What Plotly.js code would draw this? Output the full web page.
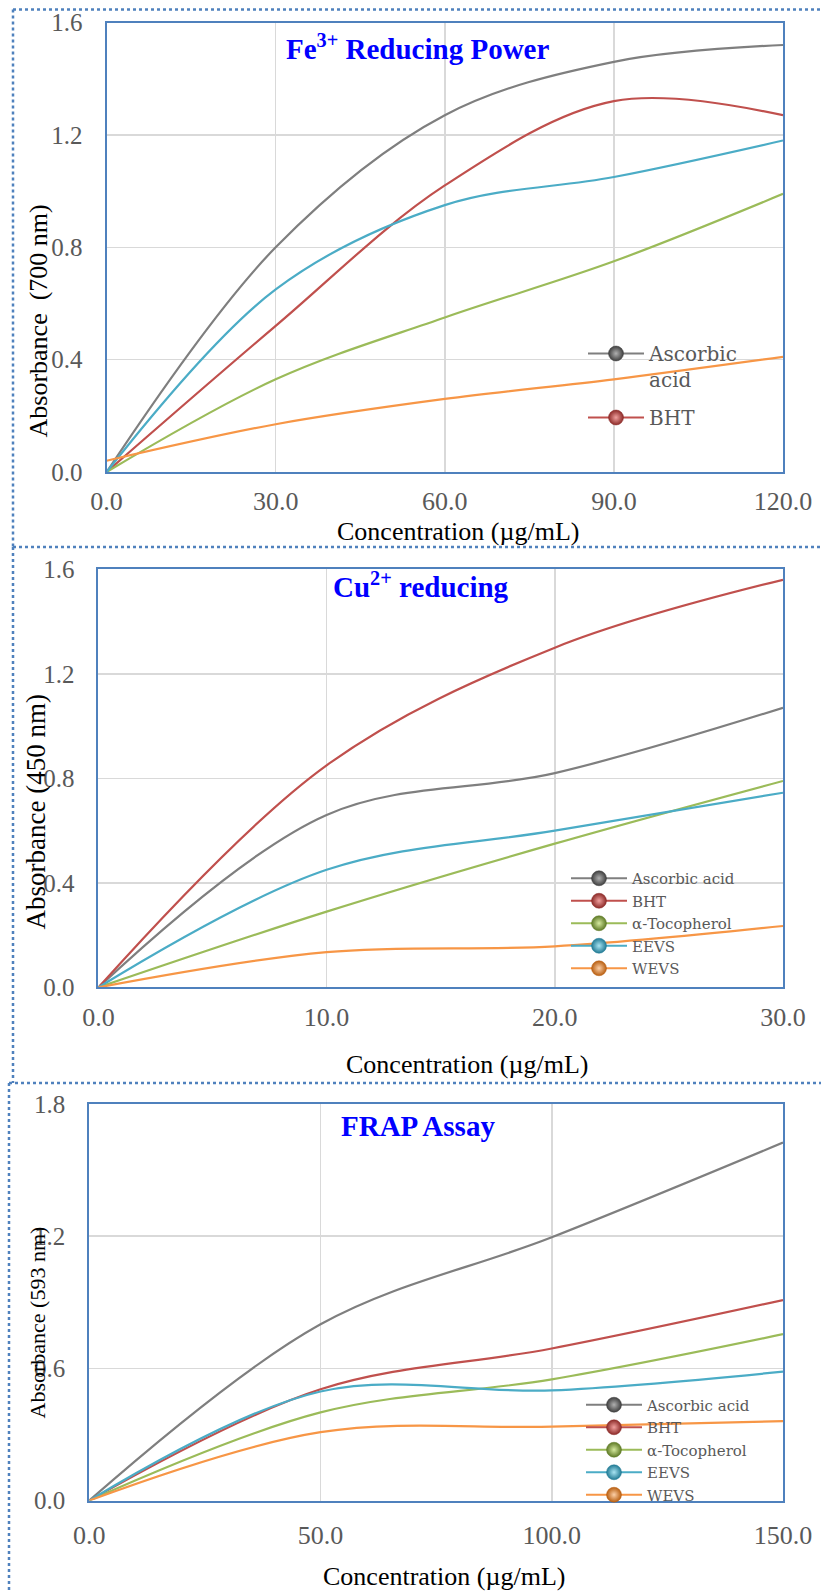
<!DOCTYPE html>
<html>
<head>
<meta charset="utf-8">
<script src="https://cdn.plot.ly/plotly-3.0.1.min.js"></script>
<style>
html,body{margin:0;padding:0;background:#fff;}
#chart{width:821px;height:1591px;}
</style>
</head>
<body>
<div id="chart"></div>
<script>
// ---------- DATA ----------
const seriesNames = ["Ascorbic acid", "BHT", "α-Tocopherol", "EEVS", "WEVS"];

// Panel 1: Fe3+ reducing power (700 nm)
const feConc = [0, 30, 60, 90, 120];
const feAscorbic = [0, 0.80, 1.27, 1.46, 1.52];
const feBHT = [0, 0.52, 1.02, 1.32, 1.27];
const feTocopherol = [0, 0.33, 0.55, 0.75, 0.99];
const feEEVS = [0, 0.65, 0.95, 1.05, 1.18];
const feWEVS = [0.04, 0.17, 0.26, 0.33, 0.41];
const feXTicks = [0, 30, 60, 90, 120];
const feYTicks = [0, 0.4, 0.8, 1.2, 1.6];

// Panel 2: Cu2+ reducing (450 nm)
const cuConc = [0, 10, 20, 30];
const cuAscorbic = [0, 0.66, 0.82, 1.07];
const cuBHT = [0, 0.85, 1.30, 1.56];
const cuTocopherol = [0, 0.29, 0.55, 0.79];
const cuEEVS = [0, 0.45, 0.60, 0.745];
const cuWEVS = [0, 0.135, 0.157, 0.235];
const cuXTicks = [0, 10, 20, 30];
const cuYTicks = [0, 0.4, 0.8, 1.2, 1.6];

// Panel 3: FRAP assay (593 nm)
const frapConc = [0, 50, 100, 150];
const frapAscorbic = [0, 0.80, 1.195, 1.625];
const frapBHT = [0, 0.505, 0.69, 0.91];
const frapTocopherol = [0, 0.40, 0.55, 0.755];
const frapEEVS = [0, 0.495, 0.50, 0.585];
const frapWEVS = [0, 0.31, 0.335, 0.36];
const frapXTicks = [0, 50, 100, 150];
const frapYTicks = [0, 0.6, 1.2, 1.8];

// ---------- STYLE ----------
const colors = ["#7f7f7f", "#c0504d", "#9bbb59", "#4bacc6", "#f79646"];
const centers = ["#b0b0b0", "#f0a09e", "#d6eaa0", "#a8e4f2", "#fcd0a8"];
const edges = ["#3f3f3f", "#8c2a28", "#5e7a26", "#217a94", "#b85e10"];
const serif = "Liberation Serif, Times New Roman, serif";
const legendFont = "DejaVu Serif, Liberation Serif, serif";
const tickGray = "#595959";

const traces = [];
function addPanel(x, ys, xa, ya, legendId, legendNames, legendLabels) {
  ys.forEach((y, i) => {
    traces.push({
      type: "scatter", mode: "lines", x: x, y: y, name: seriesNames[i],
      xaxis: xa, yaxis: ya, showlegend: false, hoverinfo: "x+y+name",
      line: {color: colors[i], width: 2.2, shape: "spline", smoothing: 1}
    });
  });
  legendNames.forEach((idx, k) => {
    traces.push({
      type: "scatter", mode: "lines+markers", x: [null], y: [null],
      name: legendLabels[k], xaxis: xa, yaxis: ya, legend: legendId, showlegend: true,
      legendgroup: legendId + "_" + k,
      line: {color: colors[idx], width: 2.2},
      marker: {size: 15, color: edges[idx], gradient: {type: "radial", color: centers[idx]},
               line: {width: 0.5, color: edges[idx]}}
    });
  });
}
addPanel(feConc, [feAscorbic, feBHT, feTocopherol, feEEVS, feWEVS], "x", "y", "legend",
         [0, 1], ["Ascorbic<br>acid", "BHT"]);
addPanel(cuConc, [cuAscorbic, cuBHT, cuTocopherol, cuEEVS, cuWEVS], "x2", "y2", "legend2",
         [0, 1, 2, 3, 4], seriesNames);
addPanel(frapConc, [frapAscorbic, frapBHT, frapTocopherol, frapEEVS, frapWEVS], "x3", "y3", "legend3",
         [0, 1, 2, 3, 4], seriesNames);

const W = 821, H = 1591;
const px = v => v / W;
const py = v => 1 - v / H;

function xAxis(domain, ticks, anchor, standoff) {
  return {
    domain: domain, anchor: anchor, range: [ticks[0], ticks[ticks.length - 1]],
    tickvals: ticks, tickformat: ".1f", ticks: "", ticklabelstandoff: standoff,
    tickfont: {family: serif, size: 26, color: tickGray},
    showgrid: true, gridcolor: "#d9d9d9", gridwidth: 1.5, zeroline: false,
    showline: true, mirror: true, linecolor: "#4f81bd", linewidth: 2, fixedrange: true
  };
}
function yAxis(domain, ticks, anchor) {
  return {
    domain: domain, anchor: anchor, range: [ticks[0], ticks[ticks.length - 1]],
    tickvals: ticks, tickformat: ".1f", ticks: "", ticklabelstandoff: 17,
    tickfont: {family: serif, size: 25, color: tickGray},
    showgrid: true, gridcolor: "#d9d9d9", gridwidth: 1.5, zeroline: false,
    showline: true, mirror: true, linecolor: "#4f81bd", linewidth: 2, fixedrange: true
  };
}
function legendAt(x, y, size, gap) {
  return {x: px(x), y: py(y), xanchor: "left", yanchor: "top", bgcolor: "rgba(0,0,0,0)",
          borderwidth: 0, valign: "top", tracegroupgap: gap, itemwidth: 56,
          font: {family: legendFont, size: size, color: tickGray}};
}
const dot = {color: "#4f81bd", width: 2.5, dash: "dot"};
function seg(x0, y0, x1, y1) {
  return {type: "line", xref: "paper", yref: "paper", x0: px(x0), y0: py(y0), x1: px(x1), y1: py(y1), line: dot};
}
function ann(text, x, y, size, opts) {
  return Object.assign({text: text, xref: "paper", yref: "paper", x: px(x), y: py(y),
    xanchor: "center", yanchor: "middle", showarrow: false,
    font: {family: serif, size: size, color: "#000"}}, opts || {});
}
const titleFont = {family: serif, size: 29, color: "#0000ff"};

const layout = {
  width: W, height: H, margin: {l: 0, r: 0, t: 0, b: 0},
  paper_bgcolor: "#fff", plot_bgcolor: "#fff", showlegend: true,
  xaxis: xAxis([px(106.6), px(783)], feXTicks, "y", 5),
  yaxis: yAxis([py(472), py(22.5)], feYTicks, "x"),
  xaxis2: xAxis([px(98.4), px(783)], cuXTicks, "y2", 5),
  yaxis2: yAxis([py(987.4), py(569.3)], cuYTicks, "x2"),
  xaxis3: xAxis([px(89.3), px(783)], frapXTicks, "y3", 10),
  yaxis3: yAxis([py(1500.5), py(1104)], frapYTicks, "x3"),
  legend: legendAt(583, 334, 20, 9),
  legend2: legendAt(566, 862, 15, 0),
  legend3: legendAt(581, 1388.5, 15, 0),
  shapes: [
    seg(13, 9.5, 821, 9.5), seg(13, 9.5, 13, 547),
    seg(13, 547, 821, 547), seg(13, 547, 13, 1083),
    seg(9, 1083, 821, 1083), seg(9, 1083, 9, 1591)
  ],
  annotations: [
    ann("<b>Fe<sup>3+</sup> Reducing Power</b>", 417, 47, 29, {font: titleFont}),
    ann("<b>Cu<sup>2+</sup> reducing</b>", 421, 585, 29, {font: titleFont}),
    ann("<b>FRAP Assay</b>", 418, 1126, 29, {font: titleFont}),
    ann("Concentration (µg/mL)", 458, 531, 26),
    ann("Concentration (µg/mL)", 467, 1064.5, 26),
    ann("Concentration (µg/mL)", 444, 1576, 26),
    ann("Absorbance&nbsp;&nbsp;(700 nm)", 37.5, 321, 26, {textangle: -90}),
    ann("Absorbance (450 nm)", 35.5, 812, 27, {textangle: -90}),
    ann("Absorbance (593 nm)", 36.5, 1323, 22, {textangle: -90})
  ]
};

Plotly.newPlot("chart", traces, layout, {staticPlot: true, displayModeBar: false});
</script>
</body>
</html>
